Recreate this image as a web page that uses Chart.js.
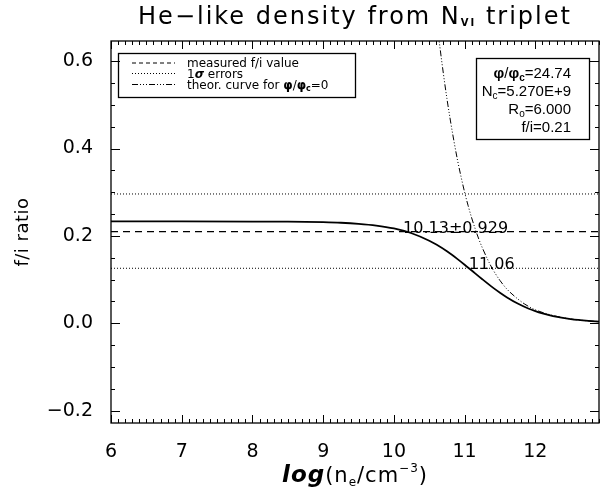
<!DOCTYPE html>
<html lang="en">
<head>
<meta charset="utf-8">
<title>He-like density from N VI triplet</title>
<script src="https://cdn.jsdelivr.net/npm/chart.js"></script>
<style>
  html, body { margin: 0; padding: 0; background: #fff; }
</style>
</head>
<body>
<canvas id="dens" width="602" height="491"></canvas>
<script>
// fitted f/i ratio against log electron density (phi/phi_c = 24.74)
const logNe = [6.0, 7.0, 8.0, 8.5, 9.0, 9.25, 9.5, 9.75, 10.0, 10.25, 10.5, 10.6, 10.75, 10.9, 11.0, 11.1, 11.25, 11.4, 11.5, 11.6, 11.75, 11.9, 12.0, 12.1, 12.25, 12.5, 12.75, 12.9];
const fiRatio = [0.2331, 0.2331, 0.2329, 0.2326, 0.2314, 0.2302, 0.2278, 0.2238, 0.2171, 0.2061, 0.1890, 0.1802, 0.1648, 0.1470, 0.1342, 0.1209, 0.1009, 0.0817, 0.0700, 0.0592, 0.0453, 0.0340, 0.0278, 0.0227, 0.0165, 0.0096, 0.0055, 0.0039];

// theoretical curve for phi/phi_c = 0
const logNeTheor = [10.6, 10.65, 10.7, 10.75, 10.8, 10.85, 10.9, 10.95, 11.0, 11.05, 11.1, 11.15, 11.2, 11.25, 11.35, 11.4, 11.5, 11.6, 11.75, 11.85, 12.0, 12.25, 12.5, 12.75, 12.9];
const fiTheor = [0.702, 0.633, 0.571, 0.514, 0.463, 0.416, 0.373, 0.335, 0.300, 0.269, 0.241, 0.216, 0.193, 0.173, 0.138, 0.123, 0.098, 0.078, 0.056, 0.044, 0.031, 0.018, 0.010, 0.0056, 0.0040];

// measured f/i value and its 1-sigma band
const fiMeasured = 0.21;
const fiErrors = [0.296, 0.126];

// densities where the curve crosses the measured value and the lower error
const crossLabels = ['10.13\u00b10.929', '11.06'];
const crossX = [10.13, 11.06];
const crossY = [0.21, 0.126];

const xRange = [6, 12.9];
const yRange = [-0.228, 0.646];
const xTicks = [6, 7, 8, 9, 10, 11, 12];
const yTicks = [-0.2, 0.0, 0.2, 0.4, 0.6];

const FONT = '"DejaVu Sans", sans-serif';
const NARROW = '"Liberation Sans Narrow", "Liberation Sans", sans-serif';

function pts(xs, ys) {
  return xs.map((x, i) => ({ x: x, y: ys[i] }));
}

// draw a row of text pieces with their own fonts and baseline shifts
function richText(ctx, x, y, runs, align) {
  let w = 0;
  runs.forEach(r => { ctx.font = r[1]; w += ctx.measureText(r[0]).width; });
  let cx = align === 'center' ? x - w / 2 : align === 'right' ? x - w : x;
  runs.forEach(r => {
    ctx.font = r[1];
    ctx.fillText(r[0], cx, y + (r[2] || 0));
    cx += ctx.measureText(r[0]).width;
  });
}

function seg(ctx, x1, y1, x2, y2) {
  ctx.beginPath();
  ctx.moveTo(x1, y1);
  ctx.lineTo(x2, y2);
  ctx.stroke();
}

const decorations = {
  id: 'decorations',
  afterDatasetsDraw(chart) {
    const ctx = chart.ctx;
    const a = chart.chartArea;
    const xs = chart.scales.x, ys = chart.scales.y;
    ctx.save();
    ctx.strokeStyle = '#000';
    ctx.fillStyle = '#000';
    ctx.setLineDash([]);

    // frame
    ctx.lineWidth = 1.3;
    ctx.strokeRect(a.left, a.top, a.right - a.left, a.bottom - a.top);

    // inward ticks on all four sides
    ctx.lineWidth = 1;
    for (let i = 0; i <= 69; i++) {
      const v = 6 + i * 0.1;
      if (v > xRange[1] + 1e-6) break;
      const px = Math.round(xs.getPixelForValue(v)) + 0.5;
      const len = i % 10 === 0 ? 8 : 4;
      seg(ctx, px, a.bottom, px, a.bottom - len);
      seg(ctx, px, a.top, px, a.top + len);
    }
    for (let v = -0.2; v <= 0.64; v += 0.05) {
      const py = Math.round(ys.getPixelForValue(v)) + 0.5;
      const major = Math.abs(Math.round(v * 100) % 20) === 0;
      const len = major ? 9 : 4;
      seg(ctx, a.left, py, a.left + len, py);
      seg(ctx, a.right, py, a.right - len, py);
    }

    // x tick labels under the frame
    ctx.textAlign = 'center';
    ctx.textBaseline = 'alphabetic';
    ctx.font = '19px ' + FONT;
    xTicks.forEach(v => ctx.fillText(String(v), xs.getPixelForValue(v), a.bottom + 34));

    // crossing labels
    ctx.textAlign = 'left';
    ctx.font = '16px ' + FONT;
    crossLabels.forEach((t, i) => {
      ctx.fillText(t, xs.getPixelForValue(crossX[i]), ys.getPixelForValue(crossY[i]) + 1);
    });

    // legend box
    ctx.lineWidth = 1.3;
    ctx.strokeRect(118.5, 53.5, 237, 44);
    const lx1 = 132, lx2 = 175, tx = 187;
    const rows = [63, 73.5, 84.5];
    ctx.lineWidth = 1;
    ctx.setLineDash([4, 3]);
    seg(ctx, lx1, rows[0], lx2, rows[0]);
    ctx.setLineDash([1, 2]);
    seg(ctx, lx1, rows[1], lx2, rows[1]);
    ctx.setLineDash([6, 2, 1, 2, 1, 2, 1, 2]);
    seg(ctx, lx1, rows[2], lx2, rows[2]);
    ctx.setLineDash([]);
    const f12 = '12px ' + FONT;
    richText(ctx, tx, rows[0] + 4, [['measured f/i value', f12]], 'left');
    richText(ctx, tx, rows[1] + 4, [['1', f12], ['\u03c3', 'italic bold 12px ' + FONT], [' errors', f12]], 'left');
    richText(ctx, tx, rows[2] + 4, [['theor. curve for ', f12], ['\u03c6', 'bold 12px ' + FONT], ['/', f12],
      ['\u03c6', 'bold 12px ' + FONT], ['c', 'bold 8px ' + FONT, 2], ['=0', f12]], 'left');

    // parameter box
    ctx.lineWidth = 1.3;
    ctx.strokeRect(476.5, 58.5, 113, 81);
    const f15 = '15px ' + NARROW;
    const s10 = '10px ' + NARROW;
    const rx = 571;
    richText(ctx, rx, 78, [['\u03c6', 'bold 15px ' + NARROW], ['/', f15], ['\u03c6', 'bold 15px ' + NARROW], ['c', 'bold 10px ' + NARROW, 3], ['=24.74', f15]], 'right');
    richText(ctx, rx, 96, [['N', f15], ['c', s10, 3], ['=5.270E+9', f15]], 'right');
    richText(ctx, rx, 114, [['R', f15], ['o', s10, 3], ['=6.000', f15]], 'right');
    richText(ctx, rx, 132, [['f/i=0.21', f15]], 'right');

    // title, spaced out like the plotting font
    const cx = (a.left + a.right) / 2;
    ctx.letterSpacing = '2px';
    richText(ctx, cx, 24, [['He\u2212like density from N', '24px ' + FONT], ['VI', 'bold 10px ' + FONT, 2], [' triplet', '24px ' + FONT]], 'center');

    // x axis title
    ctx.letterSpacing = '1px';
    richText(ctx, cx, 482, [['log', 'italic bold 23px ' + FONT], ['(n', '21px ' + FONT], ['e', '12px ' + FONT, 4],
      ['/cm', '21px ' + FONT], ['\u22123', '12px ' + FONT, -10], [')', '21px ' + FONT]], 'center');

    // y axis title
    ctx.letterSpacing = '0.5px';
    ctx.translate(28, (a.top + a.bottom) / 2);
    ctx.rotate(-Math.PI / 2);
    ctx.textAlign = 'center';
    ctx.font = '18px ' + FONT;
    ctx.fillText('f/i ratio', 0, 0);
    ctx.letterSpacing = '0px';
    ctx.restore();
  }
};

new Chart(document.getElementById('dens'), {
  type: 'scatter',
  data: {
    datasets: [
      { data: pts(logNe, fiRatio), showLine: true, borderColor: '#000', borderWidth: 1.8,
        pointRadius: 0, cubicInterpolationMode: 'monotone' },
      { data: pts(logNeTheor, fiTheor), showLine: true, borderColor: '#000', borderWidth: 1,
        borderDash: [6, 2, 1, 2, 1, 2, 1, 2], pointRadius: 0, cubicInterpolationMode: 'monotone' },
      { data: pts(xRange, [fiMeasured, fiMeasured]), showLine: true, borderColor: '#000', borderWidth: 1.2,
        borderDash: [7, 5], pointRadius: 0 },
      { data: pts(xRange, [fiErrors[0], fiErrors[0]]), showLine: true, borderColor: '#000', borderWidth: 1,
        borderDash: [1, 2], pointRadius: 0 },
      { data: pts(xRange, [fiErrors[1], fiErrors[1]]), showLine: true, borderColor: '#000', borderWidth: 1,
        borderDash: [1, 2], pointRadius: 0 }
    ]
  },
  options: {
    responsive: false,
    animation: false,
    devicePixelRatio: 1,
    layout: { padding: { top: 41, right: 3, left: 0, bottom: 0 } },
    plugins: { legend: { display: false }, tooltip: { enabled: false } },
    scales: {
      x: {
        type: 'linear', min: xRange[0], max: xRange[1],
        grid: { display: false }, border: { display: false },
        afterBuildTicks: s => { s.ticks = xTicks.map(v => ({ value: v })); },
        afterFit: s => { s.height = 68; },
        ticks: { display: false }
      },
      y: {
        type: 'linear', min: yRange[0], max: yRange[1],
        grid: { display: false }, border: { display: false },
        afterBuildTicks: s => { s.ticks = yTicks.map(v => ({ value: v })); },
        afterFit: s => { s.width = 111; },
        ticks: { color: '#000', font: { family: FONT, size: 19 }, padding: 10, autoSkip: false,
          callback: v => (v < 0 ? '\u2212' : '') + Math.abs(v).toFixed(1) }
      }
    }
  },
  plugins: [decorations]
});
</script>
</body>
</html>
